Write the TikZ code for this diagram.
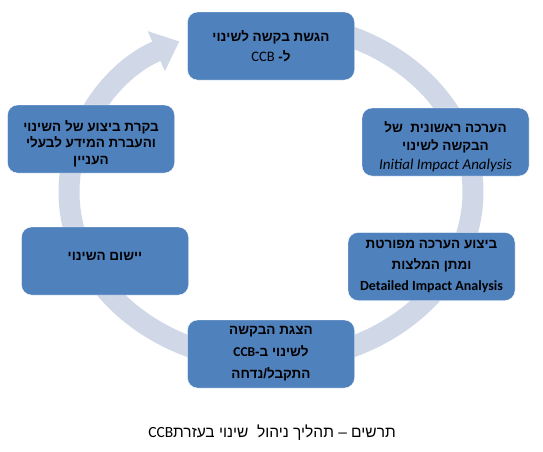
\documentclass[tikz,border=0pt]{standalone}
\usepackage{fontspec}
\setmainfont{Carlito}
\newfontfamily\hebfont[Script=Hebrew]{Liberation Sans}
\newfontfamily\latfont{Carlito}
\TeXXeTstate=1
\definecolor{CycBlue}{RGB}{79,129,189}
\definecolor{CycRing}{RGB}{208,216,232}
\usetikzlibrary{arrows.meta, positioning}
\newcommand{\heb}[1]{{\hebfont\beginR #1\endR}}

\begin{document}
\begin{tikzpicture}[x=1pt, y=-1pt,
    box/.style={rounded corners=10pt, minimum width=167pt, minimum height=68pt,
                align=center, fill=CycBlue, draw=white, text=black, inner sep=3pt,
                font=\fontsize{13.5}{18}\selectfont\bfseries},
    ring/.style={line width=21pt, draw=CycRing,
                 -{Triangle[width=42pt, length=25pt]}}
  ]
    \useasboundingbox (0,0) rectangle (543,451);

    % Cycle ring behind the steps
    \draw[ring] (271,23) arc[start angle=-90, end angle=243,
                             x radius=202, y radius=169];

    % Submit request
    \node[box] (submit) at (271,46)
      {\heb{הגשת בקשה לשינוי}\\[2pt]
       \heb{ל\kern0pt- {\latfont\mdseries\fontsize{14.5}{18}\selectfont CCB}}};

    % Initial assessment
    \node[box] (initial) at (445.5,142)
      {\mbox{}\\[2pt]
       \heb{הערכה ראשונית\ \ של}\\
       \heb{הבקשה לשינוי}\\[1pt]
       {\mdseries\itshape\fontsize{15}{18}\selectfont Initial Impact Analysis}};

    % Detailed assessment
    \node[box] (detailed) at (431.5,266.5)
      {\heb{ביצוע הערכה מפורטת}\\[3pt]
       \heb{ומתן המלצות}\\[3pt]
       {\fontsize{14}{18}\selectfont Detailed Impact Analysis}};

    % CCB decision
    \node[box] (decision) at (271,354)
      {\heb{הצגת הבקשה}\\[4pt]
       \heb{לשינוי ב\kern0pt-{\latfont CCB}}\\[4pt]
       \heb{התקבל\kern0pt/\kern0pt נדחה}};

    % Implementation
    \node[box] (implement) at (105,261)
      {\heb{יישום השינוי}\\[-9pt]\mbox{}};

    % Review and update
    \node[box] (review) at (91,139)
      {\mbox{}\\[2pt]
       \heb{בקרת ביצוע של השינוי}\\[-1.5pt]
       \heb{והעברת המידע לבעלי}\\[-1.5pt]
       \heb{העניין}};

    % Caption
    \node[font=\fontsize{15.5}{18}\selectfont] (caption) at (272,433)
      {\heb{תרשים – תהליך ניהול\ \ שינוי בעזרת{\latfont CCB}}};
  \end{tikzpicture}
\end{document}
